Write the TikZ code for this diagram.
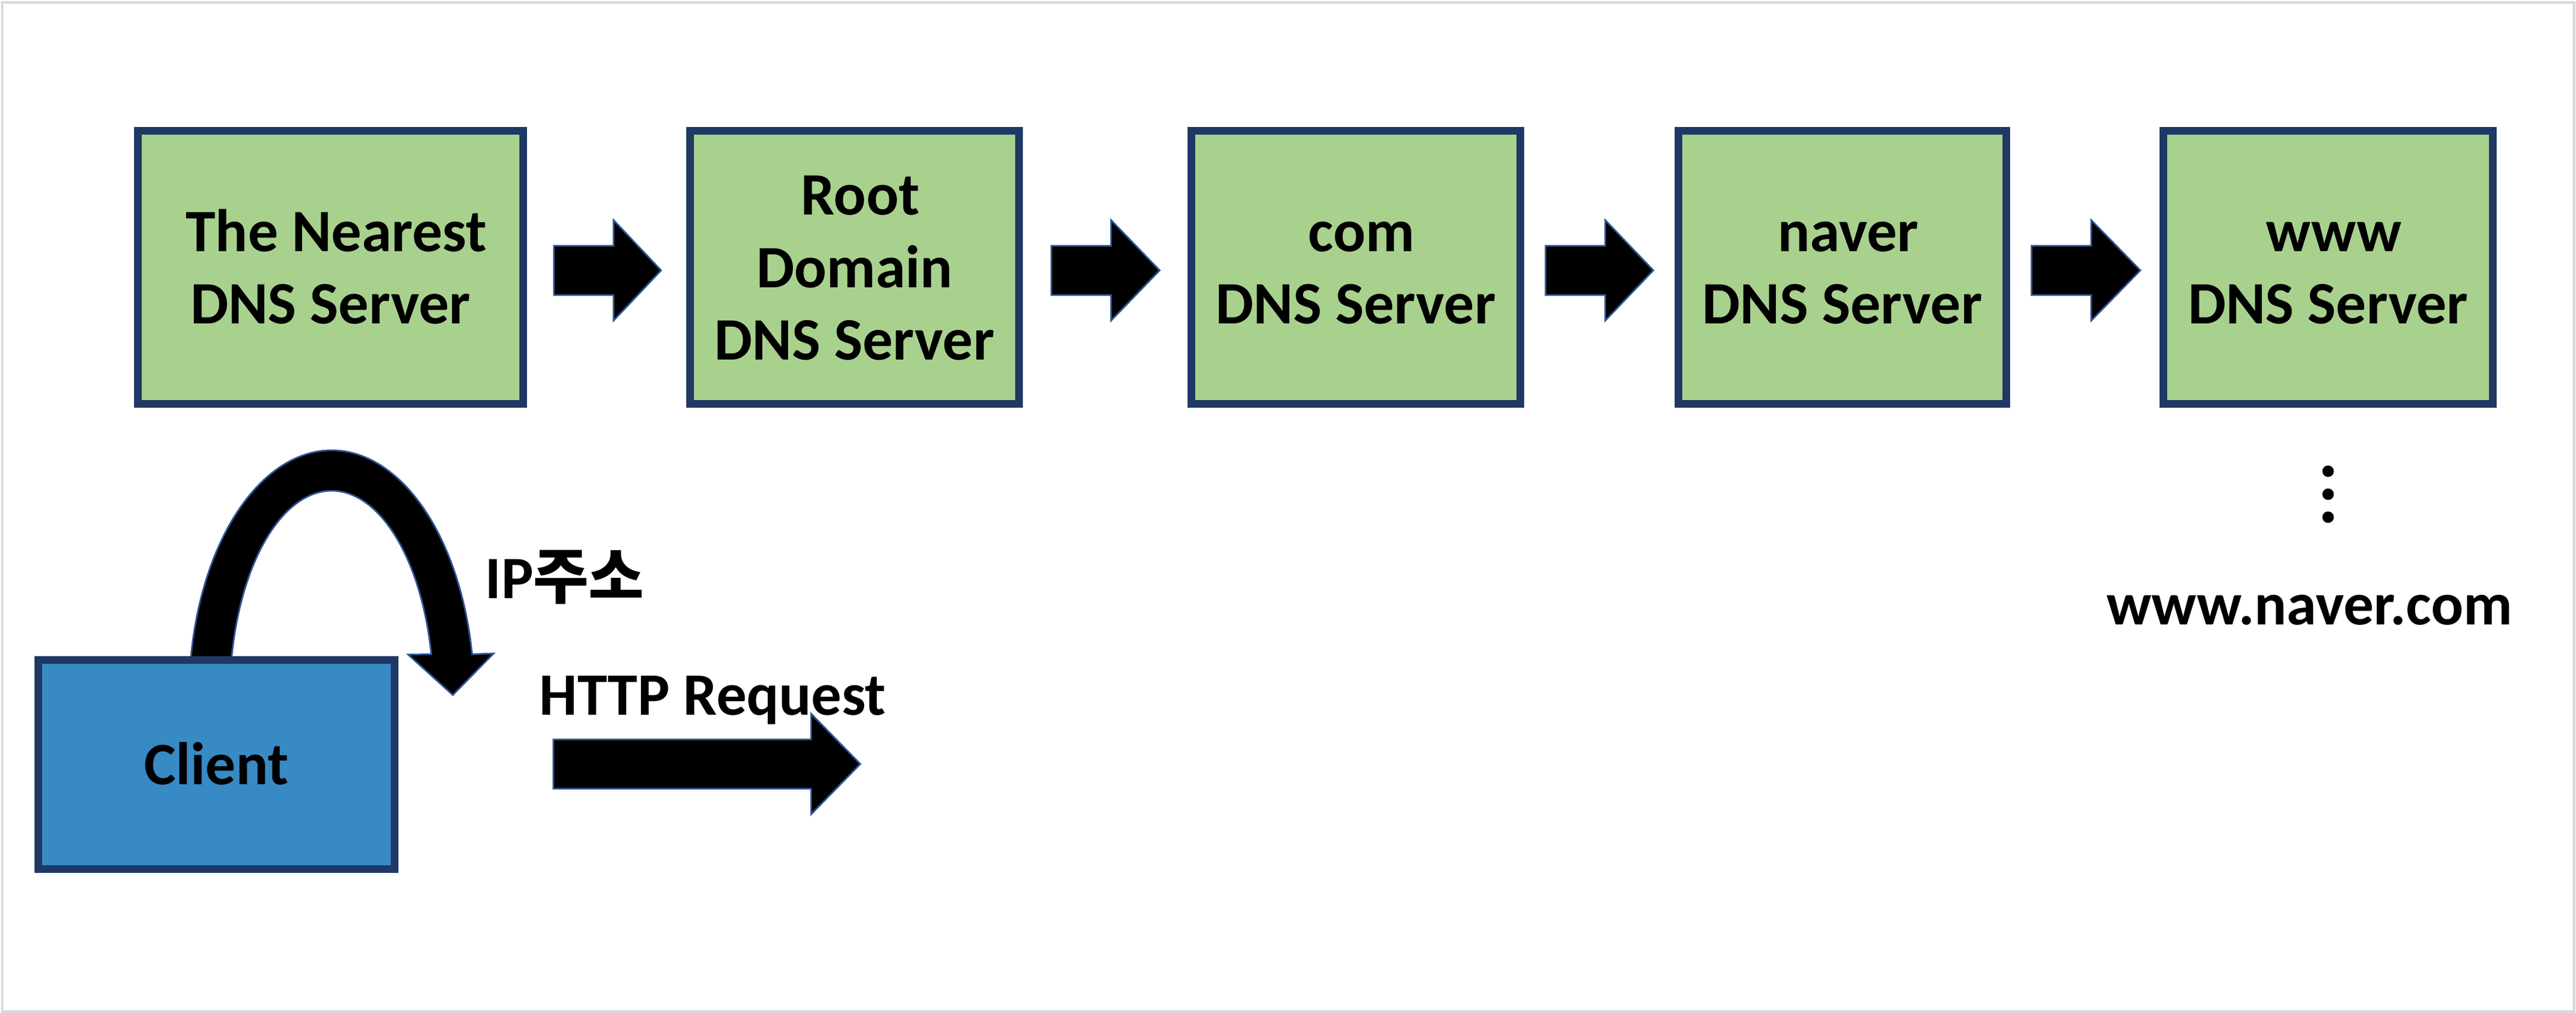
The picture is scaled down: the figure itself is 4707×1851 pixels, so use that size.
\documentclass[tikz,border=0pt]{standalone}
\usepackage{fontspec}
\setmainfont{Carlito}
\newfontfamily\krfont{Noto Sans CJK KR}
\definecolor{boxgreen}{HTML}{A9D18E}
\definecolor{navyline}{HTML}{1F3864}
\definecolor{clientblue}{HTML}{378AC4}
\definecolor{arrowline}{HTML}{2F5597}
\definecolor{framegray}{HTML}{D9D9D9}
\newcommand{\labfont}{\fontsize{31.3pt}{37.6pt}\selectfont\bfseries}
\newcommand{\tstrut}{\rule{0pt}{32pt}}
\newcommand{\leadsp}{\hspace*{6pt}}
\newcommand{\blockarrow}[4]{%
  \filldraw[blockarrowstyle] (#1,#4-45) -- (#2,#4-45) -- (#2,#4-92) -- (#3,#4)
    -- (#2,#4+92) -- (#2,#4+45) -- (#1,#4+45) -- cycle;}
\tikzset{
  dnsbox/.style={draw=navyline, fill=boxgreen, line width=3.98pt, inner sep=0pt,
    minimum height=4.985cm, align=center, font=\labfont, text=black},
  clientbox/.style={draw=navyline, fill=clientblue, line width=3.98pt, inner sep=0pt,
    minimum width=6.51cm, minimum height=3.82cm, align=center, font=\labfont, text=black},
  blockarrowstyle/.style={fill=black, draw=arrowline, line width=0.85pt, line join=miter},
  lab/.style={font=\labfont, inner sep=0pt, text=black},
}
\begin{document}
\begin{tikzpicture}[x=0.01cm, y=-0.01cm]
\useasboundingbox (0,0) rectangle (4707,1851);
% outer frame
\draw[framegray, line width=1.22pt] (4,4.5) rectangle (4703.5,1848.5);

% curved return arrow (drawn before the client box)
\filldraw[blockarrowstyle]
  plot[domain=171.35:9.88, samples=90, variable=\t] ({606+260.5*cos(\t)}, {1272.7-450*sin(\t)})
  -- (902,1194) -- (827.4,1270) -- (745.7,1196) -- (788.1,1195.5)
  -- plot[domain=11.85:169.63, samples=90, variable=\t] ({606+186.1*cos(\t)}, {1272.7-376*sin(\t)})
  -- cycle;

% client
\node[clientbox] (client) at (395.5,1397) {\tstrut\strut Client};

% DNS servers
\node[dnsbox, minimum width=7.04cm] (b1) at (604,488.75)
  {\leadsp\tstrut\strut The Nearest\\\strut DNS Server};
\node[dnsbox, minimum width=6.01cm] (b2) at (1561.5,488.75)
  {\leadsp\tstrut\strut Root\\\strut Domain\\\strut DNS Server};
\node[dnsbox, minimum width=6.01cm] (b3) at (2477.5,488.75)
  {\leadsp\tstrut\strut com\\\strut DNS Server};
\node[dnsbox, minimum width=5.99cm] (b4) at (3366.5,488.75)
  {\leadsp\tstrut\strut naver\\\strut DNS Server};
\node[dnsbox, minimum width=6.02cm] (b5) at (4254,488.75)
  {\leadsp\tstrut\strut www\\\strut DNS Server};

% block arrows between servers
\blockarrow{1012}{1121}{1208}{494}
\blockarrow{1921}{2030}{2119}{494}
\blockarrow{2824}{2933}{3021}{494}
\blockarrow{3712}{3821}{3911}{494}
% HTTP request arrow
\blockarrow{1011}{1482}{1572}{1396}

% labels
\node[lab, anchor=base west] (iplabel) at (886,1093) {IP{\krfont\bfseries 주소}};
\node[lab, anchor=base west] (httplabel) at (985,1306) {HTTP Request};
\node[lab, anchor=base] (naverlabel) at (4220,1141) {www.naver.com};

% vertical dots
\fill (4254,861) circle[radius=0.105cm];
\fill (4254,903) circle[radius=0.105cm];
\fill (4254,945) circle[radius=0.105cm];
\end{tikzpicture}
\end{document}
